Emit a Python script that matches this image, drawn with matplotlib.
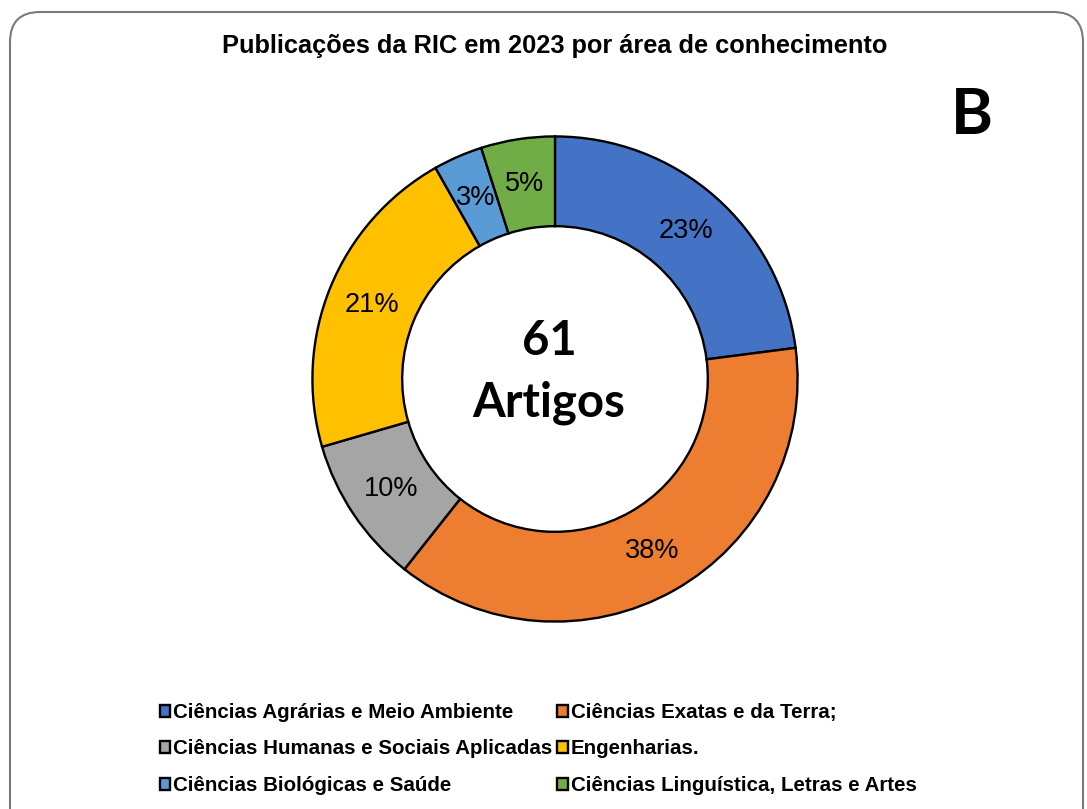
import matplotlib.pyplot as plt
from matplotlib.patches import FancyBboxPatch

categorias = ['Ciências Agrárias e Meio Ambiente', 'Ciências Exatas e da Terra;',
              'Ciências Humanas e Sociais Aplicadas', 'Engenharias.',
              'Ciências Biológicas e Saúde', 'Ciências Linguística, Letras e Artes']
artigos = [14, 23, 6, 13, 2, 3]
cores = ['#4472C4', '#ED7D31', '#A5A5A5', '#FFC000', '#5B9BD5', '#70AD47']
total = sum(artigos)

W, H = 1087, 809
fig = plt.figure(figsize=(W / 100, H / 100), dpi=100)

# moldura arredondada, desenhada em pixels num eixo de fundo
bg = fig.add_axes([0, 0, 1, 1], zorder=-1)
bg.set_xlim(0, W)
bg.set_ylim(H, 0)
bg.axis('off')
bg.add_patch(FancyBboxPatch((10, 12), 1073, 830,
                            boxstyle='round,pad=0,rounding_size=30',
                            facecolor='white', edgecolor='#7a7a7a', linewidth=1.5))

cx, cy, r = 555, 379, 245
ax = fig.add_axes([(cx - r) / W, (H - cy - r) / H, 2 * r / W, 2 * r / H])
wedges, texts, autotexts = ax.pie(
    artigos, colors=cores, startangle=90, counterclock=False,
    autopct=lambda p: f'{p:.0f}%', pctdistance=0.815, radius=1,
    wedgeprops=dict(width=0.37, edgecolor='black', linewidth=1.7),
    textprops=dict(fontsize=19.5, family='Liberation Sans', color='black'))
ax.set_xlim(-1.01, 1.01)
ax.set_ylim(-1.01, 1.01)
ax.set_aspect('equal')
ax.axis('off')

ax.text(-0.025, 0.10, str(total), ha='center', va='baseline', fontsize=34,
        fontweight='bold', family='Lato')
ax.text(-0.025, -0.155, 'Artigos', ha='center', va='baseline', fontsize=34,
        fontweight='bold', family='Lato')

fig.text(555 / W, 1 - 46 / H, 'Publicações da RIC em 2023 por área de conhecimento',
         ha='center', va='center', fontsize=18.3, fontweight='bold',
         family='Liberation Sans')
fig.text(972 / W, 1 - 115 / H, 'B', ha='center', va='center', fontsize=46,
         fontweight='bold', family='Lato')

# legenda preenchida por linha (2 colunas)
ordem = [0, 2, 4, 1, 3, 5]
leg = fig.legend([wedges[i] for i in ordem], [categorias[i] for i in ordem],
                 loc='center', ncol=2,
                 bbox_to_anchor=(538 / W, 1 - 749 / H), frameon=False,
                 handlelength=0.5, handleheight=0.5, handletextpad=0.15,
                 columnspacing=0.25, labelspacing=0.85,
                 prop=dict(family='Liberation Sans', weight='bold', size=14.8))

fig.savefig('out.png', dpi=100)
